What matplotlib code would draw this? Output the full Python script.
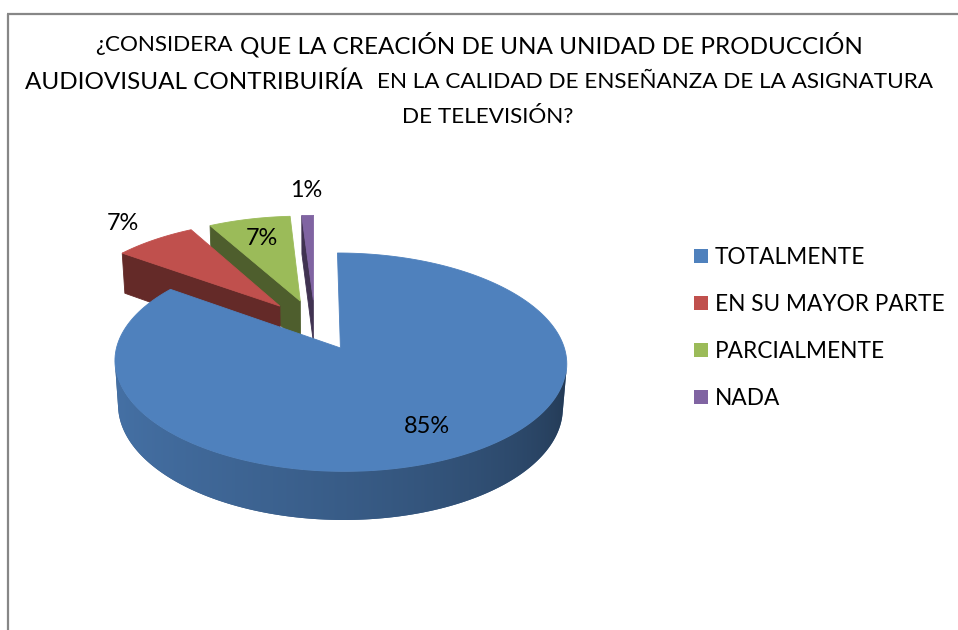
import numpy as np
import matplotlib
matplotlib.use('Agg')
import matplotlib.pyplot as plt
from matplotlib.patches import Patch, Polygon
from matplotlib.colors import to_rgb

plt.rcParams['font.family'] = ['Lato', 'DejaVu Sans']

# --------------------------------------------------------------------------- #
# Data.
categories = ['TOTALMENTE', 'EN SU MAYOR PARTE', 'PARCIALMENTE', 'NADA']
values = [85, 7, 7, 1]
pct_labels = ['85%', '7%', '7%', '1%']

title_lines = [
    [('¿CONSIDERA', 'small'), ('QUE LA CREACIÓN DE UNA UNIDAD DE PRODUCCIÓN', 'big')],
    [('AUDIOVISUAL CONTRIBUIRÍA', 'big'), ('EN LA CALIDAD DE ENSEÑANZA DE LA ASIGNATURA', 'small')],
    [('DE TELEVISIÓN?', 'small')],
]

# --------------------------------------------------------------------------- #
# Styles.
top_colours = ['#4f81bd', '#c0504d', '#9bbb59', '#8064a2']
face_dark = [0.45, 0.52, 0.5, 0.5]
label_radius = [0.75, 1.28, 0.74, 1.35]

# Fake 3D camera (axes units are pixels).
elev = np.radians(27.8)
cam_dist = 6.9
focal = 1501.
u0, v0 = 315., 324.7
thick = 0.2265
explode = 0.25

W, H = 958, 630
fig = plt.figure(figsize=(W / 100., H / 100.), dpi=100)
ax = fig.add_axes([0, 0, 1, 1])
ax.set_xlim(0, W)
ax.set_ylim(H, 0)
ax.axis('off')
renderer = fig.canvas.get_renderer()

ce, se = np.cos(elev), np.sin(elev)
cam = np.array([0., -cam_dist * ce, cam_dist * se])


def proj(X, Y, Z):
    X, Y, Z = np.asarray(X, float), np.asarray(Y, float), np.asarray(Z, float)
    zc = cam_dist + Y * ce - Z * se
    return u0 + focal * X / zc, v0 - focal * (Y * se + Z * ce) / zc


def shade(c, f):
    return tuple(min(1, max(0, x * f)) for x in to_rgb(c))


def poly(X, Y, Z, col, lw=0.6):
    u, v = proj(X, Y, Z)
    ax.fill(u, v, color=col, lw=lw, ec=col, zorder=2)


def wall_shade(tm):
    t = np.clip(((np.degrees(tm) % 360.) - 180.) / 180., 0, 1)
    return 0.88 - 0.5 * t ** 1.6


# Slice angles: start at 12 o'clock, go clockwise.
total = float(sum(values))
slices = []
cum = 0.
for i, val in enumerate(values):
    a2 = 90. - cum * 360. / total
    a1 = a2 - val * 360. / total
    cum += val
    m = np.radians((a1 + a2) / 2.)
    P = np.array([explode * np.cos(m), explode * np.sin(m)])
    slices.append((i, np.radians(a1), np.radians(a2), m, P))

# Farthest slices first.
for i, a1, a2, m, P in sorted(slices, key=lambda s: -s[4][1]):
    col = top_colours[i]
    px, py = P
    # Radial cut faces.
    for a, n in [(a1, (np.sin(a1), -np.cos(a1))), (a2, (-np.sin(a2), np.cos(a2)))]:
        vis = n[0] * (cam[0] - px) + n[1] * (cam[1] - py)
        if vis > 0.2:
            rx, ry = px + np.cos(a), py + np.sin(a)
            poly([px, rx, rx, px], [py, ry, ry, py], [0, 0, -thick, -thick],
                 shade(col, face_dark[i]))
    # Outer curved wall: the visible part, filled with a gradient image.
    th = np.linspace(a1, a2, 721)
    vis = (np.cos(th) * (cam[0] - px - np.cos(th))
           + np.sin(th) * (cam[1] - py - np.sin(th))) > 0
    if vis.any():
        tv = th[vis]
        ut, vt = proj(px + np.cos(tv), py + np.sin(tv), np.zeros(len(tv)))
        ub, vb = proj(px + np.cos(tv), py + np.sin(tv), -thick * np.ones(len(tv)))
        outline = np.c_[np.r_[ut, ub[::-1]], np.r_[vt, vb[::-1]]]
        wall = Polygon(outline, closed=True, fc=shade(col, 0.7), ec='none', zorder=2)
        ax.add_patch(wall)
        umin, umax = outline[:, 0].min(), outline[:, 0].max()
        vmin, vmax = outline[:, 1].min(), outline[:, 1].max()
        cols = np.linspace(umin, umax, 600)
        order = np.argsort(ut)
        tcol = np.interp(cols, ut[order], tv[order])
        img = np.array([[shade(col, wall_shade(t)) for t in tcol]])
        im = ax.imshow(img, extent=(umin, umax, vmax, vmin), aspect='auto',
                       interpolation='bilinear', zorder=2.1)
        im.set_clip_path(wall)
    # Top face.
    th = np.linspace(a1, a2, 200)
    poly(np.r_[px, px + np.cos(th)], np.r_[py, py + np.sin(th)], np.zeros(len(th) + 1), col)

ax.set_xlim(0, W)
ax.set_ylim(H, 0)


def fit_size(s, width):
    t = ax.text(0, 0, s, fontsize=20)
    w = t.get_window_extent(renderer).width
    t.remove()
    return 20. * width / w


# Percentage labels.
lab_fs = fit_size('85%', 46)
for i, a1, a2, m, P in slices:
    r = label_radius[i]
    u, v = proj(P[0] + r * np.cos(m), P[1] + r * np.sin(m), 0)
    ax.text(u, v, pct_labels[i], fontsize=lab_fs, ha='center', va='center', zorder=5)

# Title, mixed sizes on a line.
sizes = {'big': fit_size('QUE LA CREACIÓN DE UNA UNIDAD DE PRODUCCIÓN', 622),
         'small': fit_size('EN LA CALIDAD DE ENSEÑANZA DE LA ASIGNATURA', 556)}
line_y = [45, 82, 117]
line_xc = [479, 479, 488]
line_gap = [7, 14, 0]
for pieces, y, xc, gap in zip(title_lines, line_y, line_xc, line_gap):
    texts = [ax.text(0, y, s, fontsize=sizes[k], ha='left', va='center') for s, k in pieces]
    widths = [t.get_window_extent(renderer).width for t in texts]
    x = xc - (sum(widths) + gap * (len(texts) - 1)) / 2.
    for t, w in zip(texts, widths):
        t.set_x(x)
        x += w + gap

# Legend.
leg_fs = fit_size('EN SU MAYOR PARTE', 228)
handles = [Patch(facecolor=c, edgecolor='none') for c in top_colours]
ax.legend(handles, categories, loc='center left', bbox_to_anchor=(694, 328),
          bbox_transform=ax.transData, frameon=False, fontsize=leg_fs,
          handlelength=0.62, handleheight=0.62, handletextpad=0.3,
          labelspacing=1.15, borderpad=0, borderaxespad=0)

# Chart frame (cut off at right and bottom).
ax.plot([7, W], [14, 14], color='#878787', lw=1.6, solid_capstyle='butt')
ax.plot([8, 8], [14, H], color='#878787', lw=1.6, solid_capstyle='butt')

fig.savefig('out.png', dpi=100)
